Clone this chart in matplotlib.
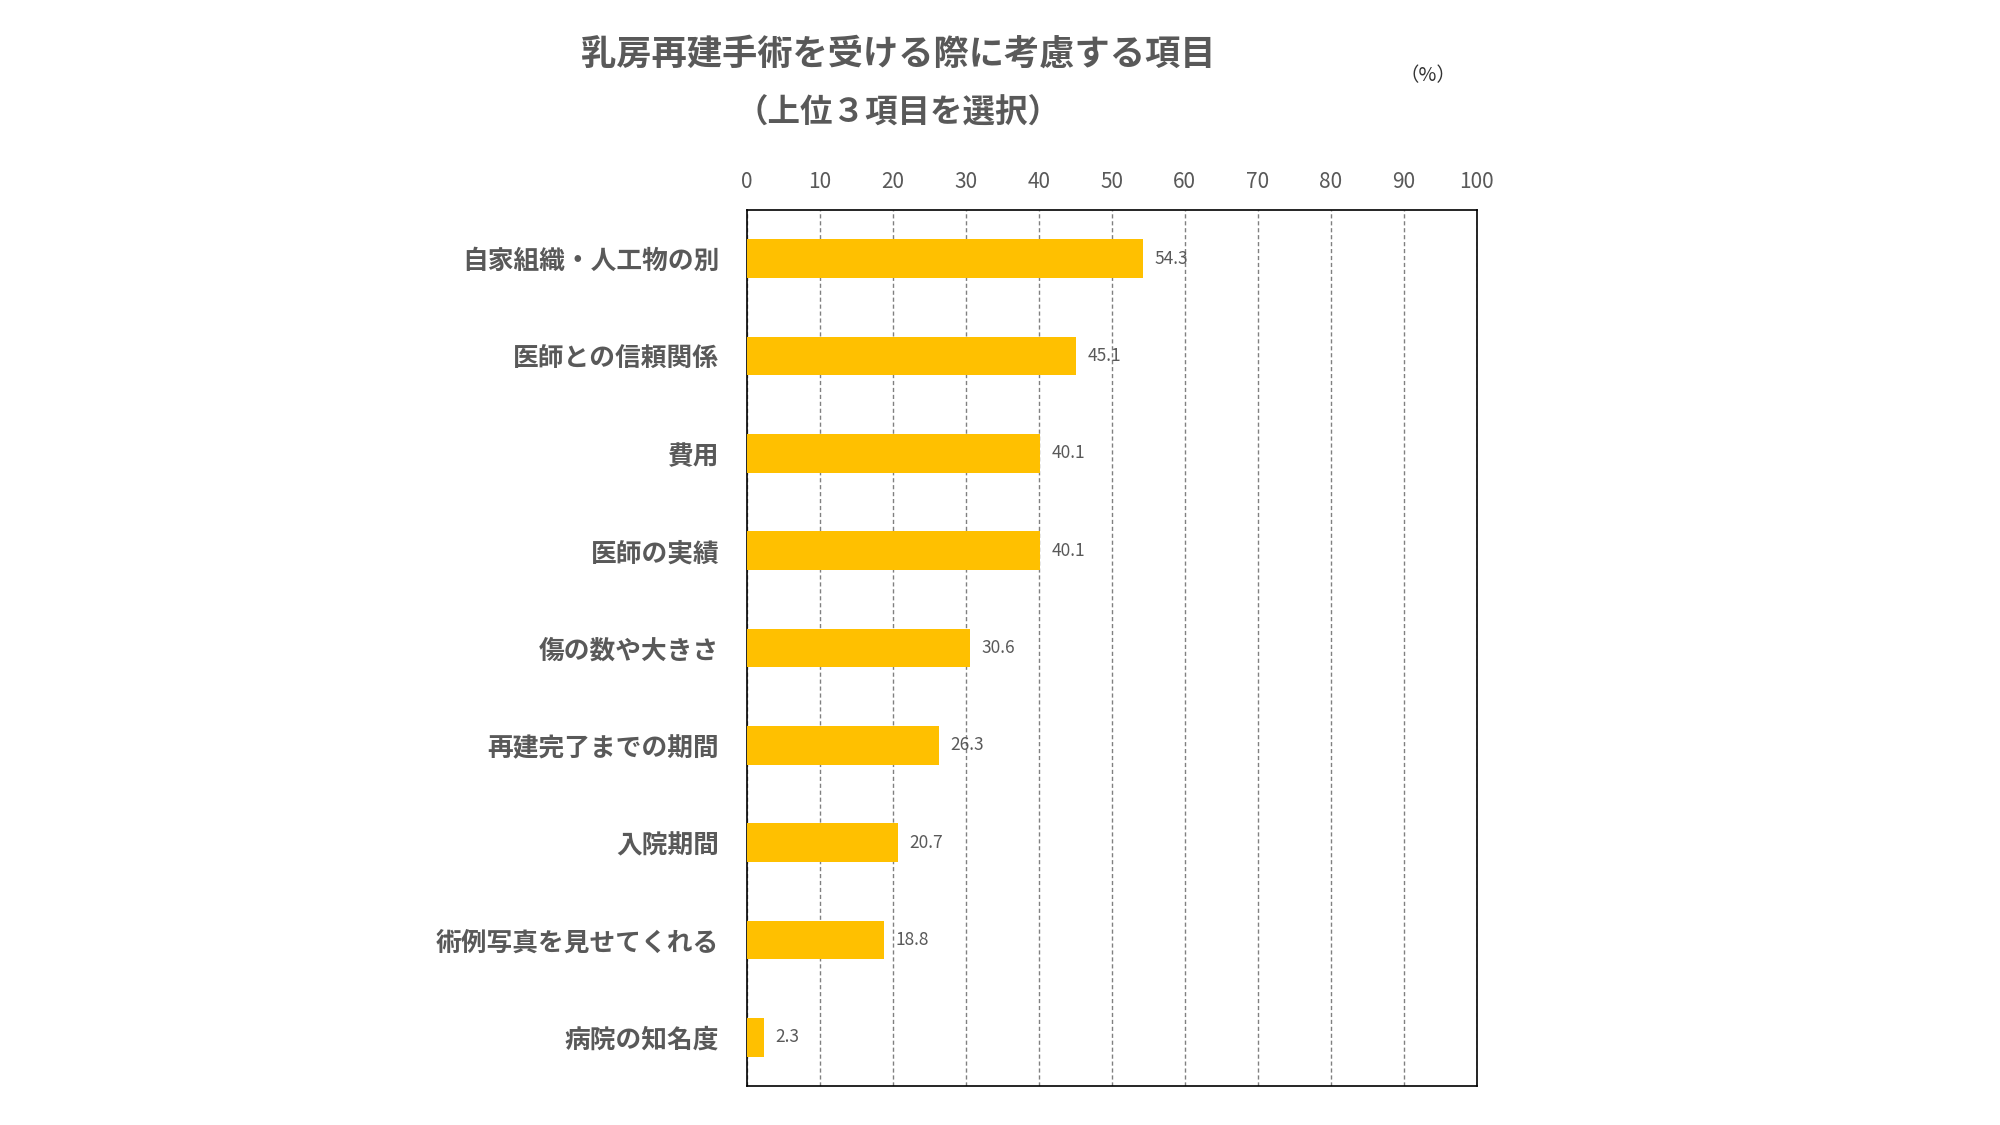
import matplotlib
matplotlib.use("Agg")
import matplotlib.pyplot as plt

plt.rcParams['font.family'] = ['Noto Sans CJK JP', 'DejaVu Sans']

categories = ["自家組織・人工物の別", "医師との信頼関係", "費用", "医師の実績",
              "傷の数や大きさ", "再建完了までの期間", "入院期間",
              "術例写真を見せてくれる", "病院の知名度"]
values = [54.3, 45.1, 40.1, 40.1, 30.6, 26.3, 20.7, 18.8, 2.3]
xticks = [0, 10, 20, 30, 40, 50, 60, 70, 80, 90, 100]

gray = "#595959"

fig = plt.figure(figsize=(20, 11.25), dpi=100)
ax = fig.add_axes([0.3735, 0.0347, 0.3648, 0.7786])

ypos = list(range(len(categories)))
ax.barh(ypos, values, height=0.4, color="#FFC000", zorder=3)
for y, v in zip(ypos, values):
    ax.text(v + 1.6, y, f"{v:.1f}", va="center", ha="left",
            fontsize=12.5, color=gray, zorder=4)

ax.set_xlim(0, 100)
ax.set_ylim(len(categories) - 0.5, -0.5)
ax.set_xticks(xticks)
ax.set_xticklabels([str(t) for t in xticks], fontsize=15, color=gray)
ax.xaxis.tick_top()
ax.tick_params(axis='x', length=0, pad=12)
ax.set_yticks(ypos)
ax.set_yticklabels(categories, fontsize=18.5, fontweight='bold', color=gray)
ax.tick_params(axis='y', length=0, pad=20)

ax.grid(axis='x', linestyle=(0, (3, 2)), color="#808080", linewidth=1, zorder=0)
for s in ax.spines.values():
    s.set_color("black")
    s.set_linewidth(1.2)

fig.text(0.449, 0.952, "乳房再建手術を受ける際に考慮する項目", ha="center", va="center",
         fontsize=25.4, fontweight='bold', color=gray)
fig.text(0.449, 0.899, "（上位３項目を選択）", ha="center", va="center",
         fontsize=23.4, fontweight='bold', color=gray)
fig.text(0.714, 0.933, "（%）", ha="center", va="center", fontsize=14, color="#333333")

fig.savefig("out.png", dpi=100)
